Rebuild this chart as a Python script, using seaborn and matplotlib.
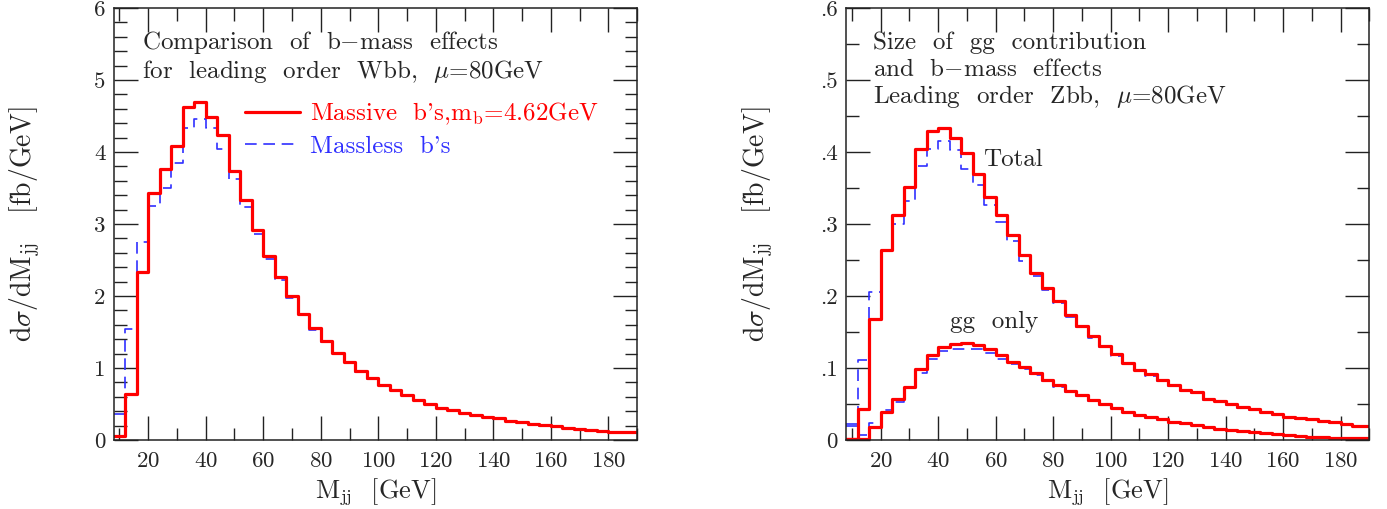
import numpy as np
import pandas as pd
import seaborn as sns
import matplotlib.pyplot as plt
from matplotlib.ticker import MultipleLocator, FuncFormatter

# bins of 4 GeV starting at 8 GeV (last one clipped by the axis at 190)
bin_width = 4
bin_start = 8

# left panel: W b bbar, massive vs massless b quarks
wbb_massive = [0.05, 0.64, 2.33, 3.43, 3.76, 4.08, 4.63, 4.70, 4.49, 4.23,
               3.74, 3.33, 2.92, 2.56, 2.26, 2.00, 1.75, 1.56, 1.37, 1.21,
               1.08, 0.96, 0.86, 0.77, 0.69, 0.625, 0.56, 0.50, 0.45, 0.42,
               0.38, 0.345, 0.32, 0.30, 0.27, 0.25, 0.225, 0.205, 0.19, 0.17,
               0.157, 0.143, 0.128, 0.11, 0.11, 0.11]
wbb_massless = [0.36, 1.54, 2.75, 3.25, 3.50, 3.85, 4.33, 4.46, 4.34, 4.04,
                3.63, 3.23, 2.86, 2.52, 2.22, 1.97, 1.73, 1.53, 1.36, 1.20,
                1.07, 0.95, 0.85, 0.76, 0.68, 0.62, 0.555, 0.495, 0.445, 0.415,
                0.375, 0.34, 0.315, 0.295, 0.265, 0.245, 0.22, 0.20, 0.187, 0.167,
                0.155, 0.14, 0.126, 0.108, 0.108, 0.108]

# right panel: Z b bbar, total and gg-only
zbb_total_massive = [0.002, 0.043, 0.168, 0.264, 0.313, 0.352, 0.404, 0.429, 0.434, 0.419,
                     0.398, 0.369, 0.337, 0.313, 0.285, 0.257, 0.232, 0.2115, 0.193, 0.174,
                     0.159, 0.144, 0.131, 0.119, 0.107, 0.097, 0.091, 0.083, 0.076, 0.069,
                     0.066, 0.057, 0.054, 0.050, 0.046, 0.0426, 0.039, 0.0356, 0.0324, 0.030,
                     0.0287, 0.0269, 0.0245, 0.0218, 0.0194, 0.019]
zbb_total_massless = [0.022, 0.111, 0.205, 0.262, 0.300, 0.332, 0.381, 0.404, 0.415, 0.403,
                      0.376, 0.354, 0.327, 0.303, 0.276, 0.249, 0.228, 0.208, 0.190, 0.171,
                      0.157, 0.142, 0.129, 0.117, 0.106, 0.096, 0.089, 0.082, 0.075, 0.068,
                      0.065, 0.056, 0.053, 0.049, 0.045, 0.042, 0.038, 0.035, 0.032, 0.0295,
                      0.028, 0.0265, 0.024, 0.0215, 0.019, 0.0188]
zbb_gg_massive = [0.002, 0.002, 0.0176, 0.039, 0.0565, 0.074, 0.098, 0.118, 0.129, 0.134,
                  0.135, 0.132, 0.126, 0.118, 0.109, 0.101, 0.0926, 0.084, 0.076, 0.0685,
                  0.0625, 0.0556, 0.050, 0.044, 0.039, 0.0347, 0.0315, 0.0287, 0.0255, 0.023,
                  0.021, 0.0176, 0.0153, 0.0139, 0.0125, 0.0106, 0.0093, 0.0079, 0.007, 0.0056,
                  0.0046, 0.0037, 0.0032, 0.0028, 0.0023, 0.0022]
zbb_gg_massless = [0.02, 0.007, 0.024, 0.041, 0.053, 0.072, 0.093, 0.112, 0.123, 0.126,
                   0.127, 0.126, 0.121, 0.113, 0.106, 0.098, 0.090, 0.082, 0.074, 0.067,
                   0.061, 0.054, 0.049, 0.043, 0.038, 0.034, 0.031, 0.028, 0.025, 0.0225,
                   0.0205, 0.017, 0.015, 0.0135, 0.012, 0.0103, 0.009, 0.0077, 0.0068, 0.0055,
                   0.0045, 0.0036, 0.0031, 0.0027, 0.0022, 0.0021]

RED = '#ff0000'
BLUE = '#3030ff'

sns.set_style('ticks')
plt.rcParams['font.family'] = ['cmr10', 'DejaVu Serif']
plt.rcParams['mathtext.fontset'] = 'cm'
plt.rcParams['axes.formatter.use_mathtext'] = True
plt.rcParams['axes.unicode_minus'] = False

TXT = 18


def hist_frame(values):
    """Step-post frame: left edges plus the closing edge."""
    edges = bin_start + bin_width * np.arange(len(values) + 1)
    return pd.DataFrame({'mjj': edges, 'val': list(values) + [values[-1]]})


def step(ax, values, color, dashed=False, label=None):
    kw = dict(linewidth=1.2, linestyle=(0, (7, 4))) if dashed else dict(linewidth=2.3)
    sns.lineplot(data=hist_frame(values), x='mjj', y='val', ax=ax, color=color,
                 drawstyle='steps-post', label=label, legend=False, **kw)


def style_axes(ax, ymax, ymajor, yminor, yfmt):
    ax.set_xlim(8, 190)
    ax.set_ylim(0, ymax)
    ax.xaxis.set_major_locator(MultipleLocator(20))
    ax.xaxis.set_minor_locator(MultipleLocator(10))
    ax.yaxis.set_major_locator(MultipleLocator(ymajor))
    ax.yaxis.set_minor_locator(MultipleLocator(yminor))
    ax.yaxis.set_major_formatter(FuncFormatter(yfmt))
    ax.tick_params(which='both', direction='in', top=True, right=True,
                   color='#222222', width=1.0)
    ax.tick_params(which='major', length=17, labelsize=16.5)
    ax.tick_params(which='minor', length=9)
    ax.tick_params(axis='y', pad=6)
    ax.tick_params(axis='x', pad=8)
    for s in ax.spines.values():
        s.set_linewidth(1.1)
        s.set_color('#222222')
    ax.set_xlabel(r'M$_{\rm jj}$  [GeV]', fontsize=19)
    ax.set_ylabel(r'd$\sigma$/dM$_{\rm jj}$   [fb/GeV]', fontsize=20)
    ax.xaxis.set_label_coords(0.5, -0.12)
    ax.xaxis.label.set_verticalalignment('center')
    ax.yaxis.set_label_coords(-0.17, 0.5)
    ax.yaxis.label.set_verticalalignment('center')


fig = plt.figure(figsize=(13.87, 5.09), dpi=100)
ax1 = fig.add_axes([0.082, 0.1356, 0.3773, 0.8487])
ax2 = fig.add_axes([0.6101, 0.1356, 0.3771, 0.8487])

# left panel
step(ax1, wbb_massless, BLUE, dashed=True, label="Massless  b's")
step(ax1, wbb_massive, RED, label=r"Massive  b's,m$_{\rm b}$=4.62GeV")
style_axes(ax1, 6, 1, 0.2, lambda v, p: f'{v:.0f}')
handles, labels = ax1.get_legend_handles_labels()
ax1.legend(handles[::-1], labels[::-1], loc='center left', bbox_to_anchor=(0.251, 0.719),
           frameon=False, fontsize=TXT, handlelength=2.2, handletextpad=0.4,
           labelspacing=0.35, borderpad=0, borderaxespad=0, labelcolor='linecolor')
ax1.text(0.054, 0.919, r'Comparison  of  b$-$mass  effects', transform=ax1.transAxes,
         fontsize=TXT, va='center', ha='left')
ax1.text(0.054, 0.852, r'for  leading  order  Wbb,  $\mu$=80GeV', transform=ax1.transAxes,
         fontsize=TXT, va='center', ha='left')

# right panel
step(ax2, zbb_total_massless, BLUE, dashed=True)
step(ax2, zbb_gg_massless, BLUE, dashed=True)
step(ax2, zbb_total_massive, RED)
step(ax2, zbb_gg_massive, RED)
style_axes(ax2, 0.6, 0.1, 0.05,
           lambda v, p: '0' if abs(v) < 1e-9 else f'{v:.1f}'.lstrip('0'))
for i, line in enumerate(['Size  of  gg  contribution', r'and  b$-$mass  effects',
                          r'Leading  order  Zbb,  $\mu$=80GeV']):
    ax2.text(0.051, 0.919 - 0.062 * i, line, transform=ax2.transAxes,
             fontsize=TXT, va='center', ha='left')
ax2.text(55.6, 0.389, 'Total', fontsize=TXT, va='center', ha='left')
ax2.text(44.1, 0.164, 'gg  only', fontsize=TXT, va='center', ha='left')

fig.savefig('out.png', dpi=100)
